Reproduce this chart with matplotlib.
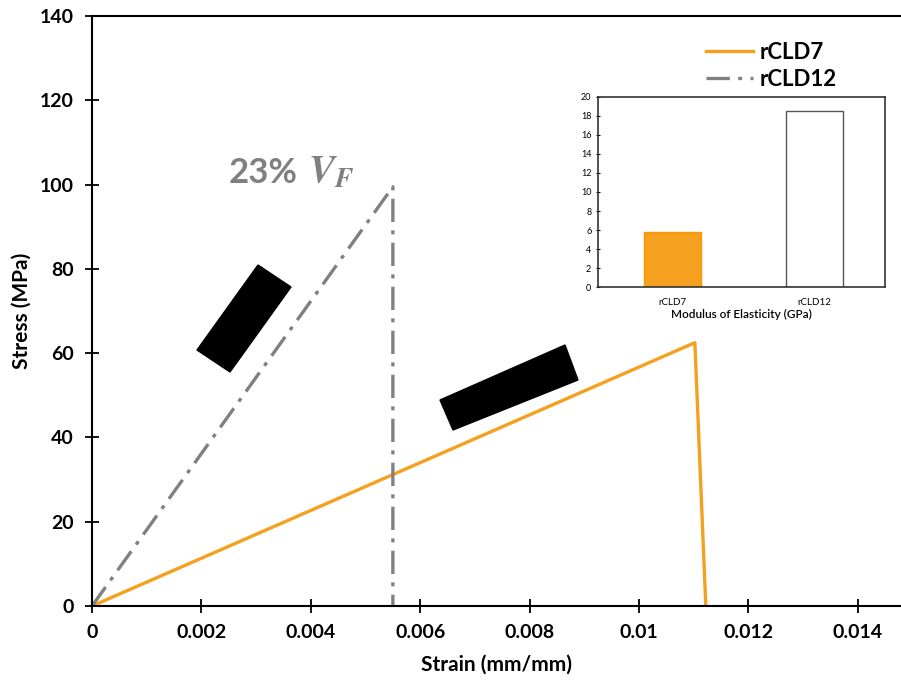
import matplotlib
matplotlib.use("Agg")
import matplotlib.pyplot as plt
from matplotlib.patches import Polygon

plt.rcParams['font.family'] = ['Lato', 'DejaVu Sans']
plt.rcParams['mathtext.fontset'] = 'stix'

# stress-strain curves
strain_7 = [0, 0.01102, 0.01122]
stress_7 = [0, 62.5, 0]
strain_12 = [0, 0.0055, 0.0055]
stress_12 = [0, 99.5, 0]

x_ticks = [0, 0.002, 0.004, 0.006, 0.008, 0.01, 0.012, 0.014]
x_ticklabels = ["0", "0.002", "0.004", "0.006", "0.008", "0.01", "0.012", "0.014"]
y_ticks = [0, 20, 40, 60, 80, 100, 120, 140]

# inset: modulus of elasticity
materials = ["rCLD7", "rCLD12"]
modulus = [5.8, 18.5]

orange = '#F5A01F'
gray = '#808080'

fig = plt.figure(figsize=(9.01, 6.82), dpi=100)
ax = fig.add_axes([0.1021, 0.1114, 0.8968, 0.865])

ax.plot(strain_7, stress_7, color=orange, lw=2.4, label="rCLD7")
ax.plot(strain_12, stress_12, color=gray, lw=2.4, dashes=(7, 2.5, 1.2, 2.5), label="rCLD12")

ax.set_xlim(0, 0.01477)
ax.set_ylim(0, 140)
ax.set_xticks(x_ticks)
ax.set_xticklabels(x_ticklabels)
ax.set_yticks(y_ticks)
ax.tick_params(direction='inout', length=10, width=1.3, labelsize=14, pad=8)
for lab in ax.get_xticklabels() + ax.get_yticklabels():
    lab.set_fontweight('bold')
ax.spines['right'].set_visible(False)
for s in ['left', 'bottom', 'top']:
    ax.spines[s].set_linewidth(1.5)
ax.set_xlabel("Strain (mm/mm)", fontsize=15, fontweight='bold', labelpad=10)
ax.set_ylabel("Stress (MPa)", fontsize=15, fontweight='bold', labelpad=6)

leg = ax.legend(loc='upper left', bbox_to_anchor=(0.735, 0.99), frameon=False,
                prop={'weight': 'bold', 'size': 16},
                handlelength=2.1, handletextpad=0.3, labelspacing=0.25)

ax.text(0.0025, 100.5, "23%", color=gray, fontsize=25, fontweight='bold',
        va='baseline', ha='left')
ax.text(0.00395, 100.5, r"$\mathbfit{V}_{\mathbfit{F}}$", color=gray, fontsize=28,
        va='baseline', ha='left')

# redaction boxes (figure pixel corners)
boxes = [
    [(258, 265), (291, 287), (230, 372), (197, 350)],
    [(440, 400), (565, 345), (578, 380), (453, 430)],
]
for b in boxes:
    pts = [(px / 901, 1 - py / 682) for px, py in b]
    fig.patches.append(Polygon(pts, closed=True, color='black', transform=fig.transFigure))

# inset bar chart
ins = fig.add_axes([0.664, 0.579, 0.3185, 0.279])
ins.bar([0, 1], modulus, width=0.4, color=[orange, 'white'],
        edgecolor=['#FF9500', '#555555'], linewidth=1)
ins.set_xlim(-0.52, 1.5)
ins.set_ylim(0, 20)
ins.set_yticks(range(0, 21, 2))
ins.set_xticks([0, 1])
ins.set_xticklabels(materials)
ins.tick_params(axis='y', labelsize=6.5, length=3, direction='inout')
ins.tick_params(axis='x', labelsize=7, length=0, pad=8)
for s in ins.spines.values():
    s.set_linewidth(1.2)
    s.set_color('#333333')
ins.set_xlabel("Modulus of Elasticity (GPa)", fontsize=8.5, fontweight='semibold', labelpad=1)

fig.savefig("out.png", dpi=100)
